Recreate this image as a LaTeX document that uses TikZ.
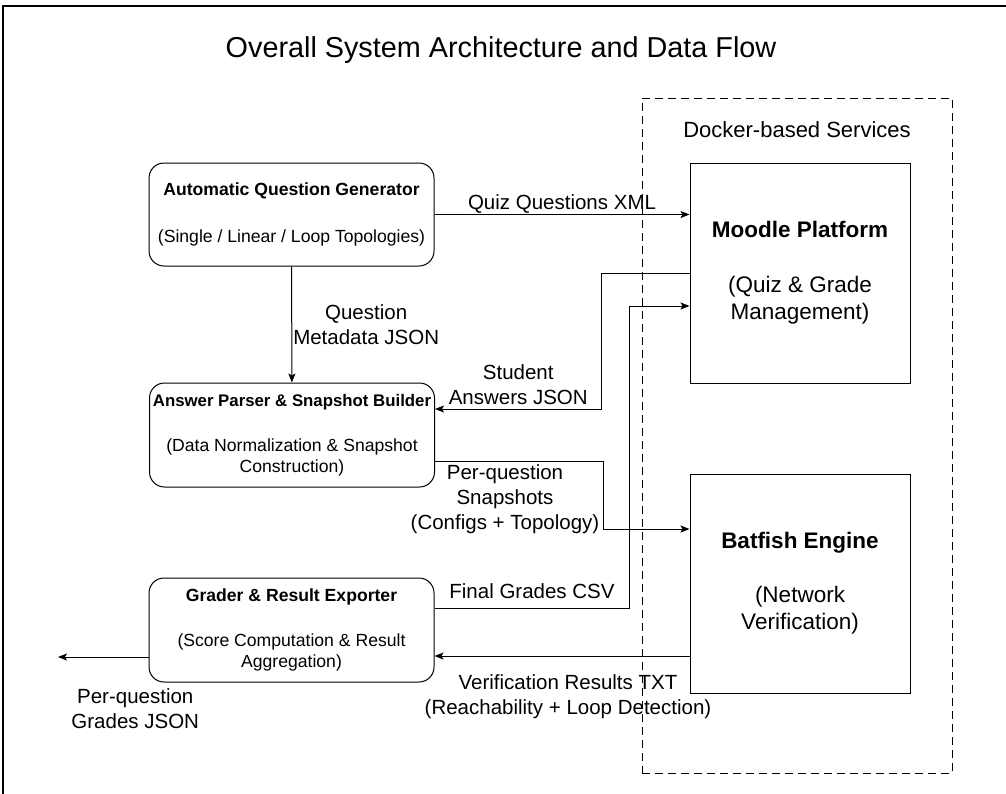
\documentclass[tikz,border=0pt]{standalone}
\usepackage{fontspec}
\setmainfont{Liberation Sans}
\usetikzlibrary{arrows.meta}

\begin{document}
\begin{tikzpicture}[x=1pt, y=-1pt, line width=1pt, >={Stealth[length=9pt,width=7pt,inset=2pt]},
    comp/.style = {draw, rounded corners=15pt, minimum width=285pt, minimum height=104pt, inner xsep=0pt, align=center, font=\fontsize{17.6}{21}\selectfont},
    svc/.style = {draw, minimum width=220pt, minimum height=220pt, align=center, font=\fontsize{22.5}{27}\selectfont},
    lbl/.style = {align=center, inner sep=1pt, font=\fontsize{20.5}{25}\selectfont}]
    \useasboundingbox (0,0) rectangle (1006,793);
    \draw[line width=1.5pt] (3,800) -- (3,6) -- (1015,6);
    \node[font=\fontsize{28.8}{34}\selectfont] (title) at (501,50) {Overall System Architecture and Data Flow};
    % docker group
    \node[draw, dash pattern=on 8pt off 5pt, minimum width=310pt, minimum height=675pt] (docker) at (797,435.5) {};
    \node[font=\fontsize{22}{26}\selectfont] (dockerlbl) at (797,130) {Docker-based Services};
    \node[svc] (moodle) at (800,273) {\textbf{Moodle Platform}\\[28pt](Quiz \& Grade\\Management)};
    \node[svc, minimum height=219pt] (batfish) at (800,583.5) {\textbf{Batfish Engine}\\[27pt](Network\\Verification)};
    % pipeline
    \node[comp, minimum height=103pt] (aqg) at (291.5,214.5) {\textbf{Automatic Question Generator}\\[26pt](Single / Linear / Loop Topologies)};
    \node[comp] (apsb) at (292,435) {{\fontsize{16.8}{21}\selectfont\textbf{Answer Parser \& Snapshot Builder}}\\[24pt](Data Normalization \& Snapshot\\Construction)};
    \node[comp] (gre) at (291.5,630) {\textbf{Grader \& Result Exporter}\\[24pt](Score Computation \& Result\\Aggregation)};
    \coordinate (out) at (58,657);
    \draw[->] (aqg.east) -- (aqg.east -| moodle.west) node[midway, above, lbl] {Quiz Questions XML};
    \draw[->] (aqg) -- (apsb) node[midway, right, lbl] {Question\\Metadata JSON};
    \draw[->] (moodle.west) -- ++(-88,0) |- ([yshift=26pt]apsb.east) node[pos=0.75, above, lbl, yshift=3pt] {Student\\Answers JSON};
    \draw[->] ([yshift=-26pt]apsb.east) -- ++(168,0) node[midway, below, lbl, xshift=-14pt, yshift=-2pt] {Per-question\\Snapshots\\(Configs + Topology)} |- ([yshift=54.5pt]batfish.west);
    \draw[->] ([yshift=22pt]gre.east) -- ++(195,0) node[midway, above, lbl, yshift=8pt] {Final Grades CSV} |- ([yshift=-33pt]moodle.west);
    \draw[->] ([yshift=-72.5pt]batfish.west) -- ([yshift=-72.5pt]batfish.west -| gre.east) node[midway, below, lbl, xshift=6pt, yshift=-17pt] {Verification Results TXT\\(Reachability + Loop Detection)};
    \draw[->] ([yshift=-27pt]gre.west) -- (out) node[midway, below, lbl, xshift=32pt, yshift=-30pt] {Per-question\\Grades JSON};
\end{tikzpicture}
\end{document}
